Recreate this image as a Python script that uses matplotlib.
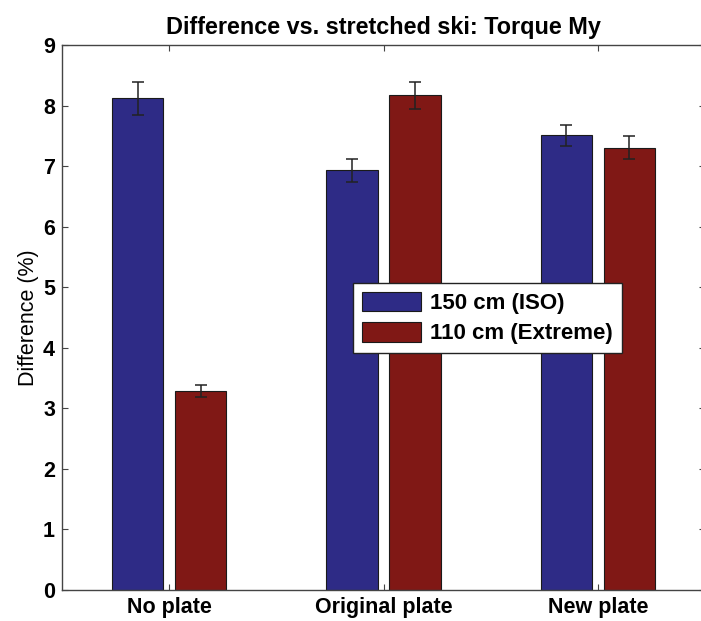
import matplotlib
matplotlib.use("Agg")
import matplotlib.pyplot as plt
import numpy as np

categories = ["No plate", "Original plate", "New plate"]
series_names = ["150 cm (ISO)", "110 cm (Extreme)"]
iso_values = [8.12, 6.93, 7.51]
iso_err = [0.27, 0.19, 0.17]
ext_values = [3.29, 8.17, 7.30]
ext_err = [0.10, 0.22, 0.19]
y_ticks = [0, 1, 2, 3, 4, 5, 6, 7, 8, 9]

plt.rcParams['font.family'] = ['Liberation Sans', 'DejaVu Sans']

fig = plt.figure(figsize=(7.01, 6.21), dpi=100)
W, H = 701, 621
left, right, top, bottom = 62, 705, 45, 590
ax = fig.add_axes([left / W, (H - bottom) / H, (right - left) / W, (bottom - top) / H])

x = np.arange(1, len(categories) + 1)
off = 0.147
bw = 0.24
blue = "#2e2b86"
red = "#801815"
ax.bar(x - off, iso_values, bw, color=blue, edgecolor="#1a1a1a", linewidth=0.8,
       label=series_names[0], zorder=2)
ax.bar(x + off, ext_values, bw, color=red, edgecolor="#1a1a1a", linewidth=0.8,
       label=series_names[1], zorder=2)
ax.errorbar(x - off, iso_values, yerr=iso_err, fmt="none", ecolor="#222222",
            elinewidth=1.1, capsize=4.5, capthick=1.1, zorder=3)
ax.errorbar(x + off, ext_values, yerr=ext_err, fmt="none", ecolor="#222222",
            elinewidth=1.1, capsize=4.5, capthick=1.1, zorder=3)

ax.set_xlim(0.5, 3.5)
ax.set_ylim(0, 9)
ax.set_yticks(y_ticks)
ax.set_xticks(x)
ax.set_xticklabels(categories)
ax.tick_params(direction="in", length=4, width=0.8, color="#444444",
               top=True, right=True, labelsize=15.5, pad=5)
for lab in ax.get_xticklabels() + ax.get_yticklabels():
    lab.set_fontweight("bold")
for s in ax.spines.values():
    s.set_color("#444444")
    s.set_linewidth(1.0)

ax.set_ylabel("Difference (%)", fontsize=15.5, labelpad=3)
ax.set_title("Difference vs. stretched ski: Torque My", fontsize=16.8,
             fontweight="bold", pad=8)

leg = ax.legend(loc="upper left", bbox_to_anchor=(0.453, 0.564),
                prop={"weight": "bold", "size": 16}, frameon=True, fancybox=False,
                edgecolor="#222222", framealpha=1, handlelength=2.65, handleheight=1.0,
                borderpad=0.4, labelspacing=0.35, handletextpad=0.4, borderaxespad=0)
leg.get_frame().set_linewidth(1.0)

fig.savefig("out.png", dpi=100)
